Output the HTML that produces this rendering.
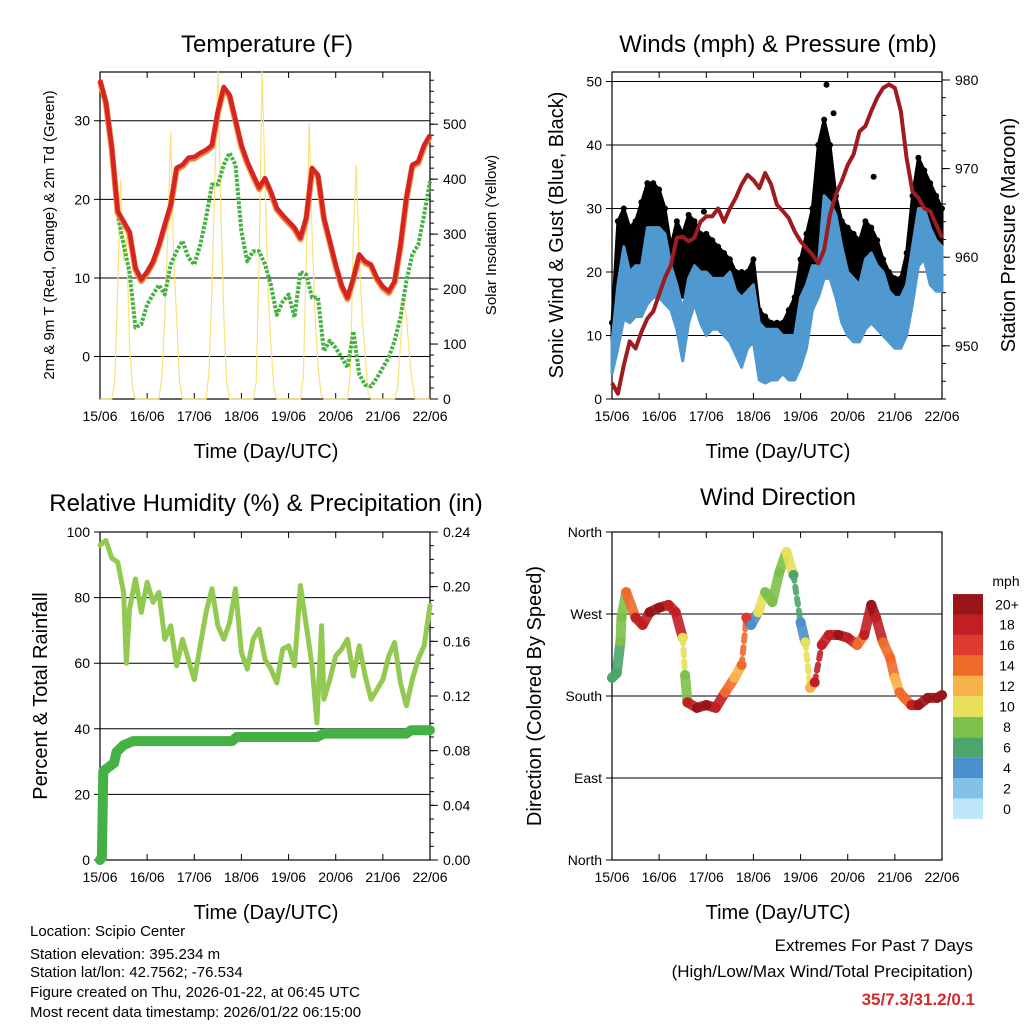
<!DOCTYPE html>
<html><head><meta charset="utf-8">
<style>
html,body{margin:0;padding:0;background:#fff;}
svg{display:block;font-family:"Liberation Sans",Arial,sans-serif;}
</style></head>
<body>
<svg id="chart" width="1024" height="1024" viewBox="0 0 1024 1024" xmlns="http://www.w3.org/2000/svg">
<rect x="0" y="0" width="1024" height="1024" fill="#fff"/>
<g id="layer"></g>
<text x="267" y="52" font-size="24" text-anchor="middle">Temperature (F)</text>
<text x="778" y="52" font-size="24" text-anchor="middle">Winds (mph) &amp; Pressure (mb)</text>
<text x="266" y="511" font-size="24" text-anchor="middle">Relative Humidity (%) &amp; Precipitation (in)</text>
<text x="778" y="505" font-size="24" text-anchor="middle">Wind Direction</text>
<text transform="translate(54,235) rotate(-90)" font-size="15" text-anchor="middle">2m &amp; 9m T (Red, Orange) &amp; 2m Td (Green)</text>
<text transform="translate(496,235) rotate(-90)" font-size="15" text-anchor="middle">Solar Insolation (Yellow)</text>
<text transform="translate(563,235) rotate(-90)" font-size="20" text-anchor="middle">Sonic Wind &amp; Gust (Blue, Black)</text>
<text transform="translate(1015,235) rotate(-90)" font-size="20" text-anchor="middle">Station Pressure (Maroon)</text>
<text transform="translate(47,696) rotate(-90)" font-size="20" text-anchor="middle">Percent &amp; Total Rainfall</text>
<text transform="translate(541,696) rotate(-90)" font-size="20" text-anchor="middle">Direction (Colored By Speed)</text>
<text x="266" y="458" font-size="20" text-anchor="middle">Time (Day/UTC)</text>
<text x="778" y="458" font-size="20" text-anchor="middle">Time (Day/UTC)</text>
<text x="266" y="919" font-size="20" text-anchor="middle">Time (Day/UTC)</text>
<text x="778" y="919" font-size="20" text-anchor="middle">Time (Day/UTC)</text>
<g font-size="15">
<text x="30" y="936">Location: Scipio Center</text>
<text x="30" y="959">Station elevation: 395.234 m</text>
<text x="30" y="977">Station lat/lon: 42.7562; -76.534</text>
<text x="30" y="997">Figure created on Thu, 2026-01-22, at 06:45 UTC</text>
<text x="30" y="1017">Most recent data timestamp: 2026/01/22 06:15:00</text>
</g>
<g text-anchor="end">
<text x="973" y="951" font-size="17">Extremes For Past 7 Days</text>
<text x="973" y="977" font-size="17">(High/Low/Max Wind/Total Precipitation)</text>
<text x="975" y="1005" font-size="17" font-weight="bold" fill="#d42a2a">35/7.3/31.2/0.1</text>
</g>
<text x="1006" y="586" font-size="14" text-anchor="middle">mph</text>
</svg>
<script>
// ---- data (time in days since 15/06 00 UTC) ----
const dayLabels = ["15/06","16/06","17/06","18/06","19/06","20/06","21/06","22/06"];
const t8 = [0,0.125,0.25,0.375,0.5,0.625,0.75,0.875,1,1.125,1.25,1.375,1.5,1.625,1.75,1.875,2,2.125,2.25,2.375,2.5,2.625,2.75,2.875,3,3.125,3.25,3.375,3.5,3.625,3.75,3.875,4,4.125,4.25,4.375,4.5,4.625,4.75,4.875,5,5.125,5.25,5.375,5.5,5.625,5.75,5.875,6,6.125,6.25,6.375,6.5,6.625,6.75,6.875,7];
const temp2m = [35.2,32.4,26.6,18.5,17.2,15.9,11.3,9.8,10.8,12.1,14.2,16.8,19.3,24.0,24.4,25.3,25.4,25.9,26.3,26.9,31.2,34.3,33.3,30.1,26.9,24.8,23.1,21.5,22.7,21.0,18.9,18.0,17.2,16.4,15.1,17.7,24.0,23.1,17.7,14.7,11.7,9.1,7.5,10.0,13.0,12.1,11.7,10.0,8.9,8.3,9.6,14.2,20.2,24.4,24.8,26.9,28.2];
const temp9m = [35.0,32.2,26.4,18.3,17.0,15.7,11.1,9.6,10.6,11.9,14.0,16.6,19.1,23.8,24.2,25.1,25.2,25.7,26.1,26.7,31.0,34.1,33.1,29.9,26.7,24.6,22.9,21.3,22.5,20.8,18.7,17.8,17.0,16.2,14.9,17.5,23.8,22.9,17.5,14.5,11.5,8.9,7.3,9.8,12.8,11.9,11.5,9.8,8.7,8.1,9.4,14.0,20.0,24.2,24.6,26.7,28.0];
const dewpt = [34.6,32,27.4,18,14.2,10.8,3.7,4.1,6.6,7.9,9.1,7.9,11.7,13.4,14.7,12.6,11.7,14.2,17.7,21.9,21.9,24.4,25.9,24.4,15.9,12.1,13.4,13.4,11.7,9.1,5.3,7.0,7.9,5.0,10.8,10.4,7.5,7.5,0.7,2.0,1.1,-0.1,-1.4,3.2,-2.3,-3.6,-3.8,-2.7,-1.4,-0.1,2.0,5.0,9.6,13.0,14.2,18.0,22.3];
const solarDayPeaks = [[30,200,400,250,300,100,20],[40,150,300,487,250,150,30],[50,200,400,596,350,150,30],[30,250,596,400,200,100,20],[40,250,503,300,150,60,10],[50,300,426,250,150,80,10],[20,100,184,150,80,30,0]];
const pressure = [945.8,944.6,947.8,950.5,949.7,951.6,953.1,953.9,955.8,957.7,959.1,962.2,962.3,961.8,962.2,964.0,964.6,964.6,965.5,964.0,965.5,966.7,968.2,969.3,968.7,967.8,969.5,968.2,965.9,965.2,964.4,962.9,961.8,961.0,960.3,959.3,960.8,964.8,967.1,968.6,970.4,971.6,974.2,974.8,976.5,978.0,979.1,979.5,979.1,976.5,971.2,967.4,966.7,965.5,965.2,963.7,962.2];
const windLo = [4,8,12.6,12,13,13,15,16,16,15,14,11,6,12,15,12,10,11,11,10,9,7,5,8,9,3,2.5,3,3,4,3,3,5,8,14,16,19,19,16,12,10,9,9,11,12,11,10,9,8,8,10,15,21,22,18,17,17];
const windHi = [9,18,24,20,21,21,27,27,27,26,21,18,14,19,21,20,20,19,19,19,20,17,16,17,18,12,11,11,11,10,10,10,16,18,21,21,32,31,29,24,20,19,18,22,23,21,20,17,16,16,18,24,30,30,27,25,24];
const gustLo = [5,12,16,16,18,20,22,22,22,20,15,18,16,18,18,16,15,14,14,12,11,9,8,10,11,6,5,6,6,6,6,8,10,16,20,22,26,23,20,18,16,14,14,15,16,14,13,12,11,11,14,22,28,27,24,22,22];
const gustHi = [12,28,30,27,28,31,34,34,33,30,24,28,26,29,28,26,26,25,24,23,22,20,20,20,22,14,13,12,12,12,14,16,22,26,30,40,44,40,32,28,27,26,25,28,27,25,22,20,19,19,23,32,38,36,34,32,30];
const gustOutlierT = [4.55,4.7,1.95,5.55];
const gustOutlierV = [49.5,45,29.5,35];
const rhT = [0,0.125,0.25,0.375,0.5,0.56,0.625,0.75,0.875,1,1.125,1.25,1.375,1.5,1.625,1.75,1.875,2,2.125,2.25,2.375,2.5,2.625,2.75,2.875,3,3.125,3.25,3.375,3.5,3.625,3.75,3.875,4,4.125,4.25,4.375,4.5,4.6,4.7,4.75,4.875,5,5.125,5.25,5.375,5.5,5.625,5.75,5.875,6,6.125,6.25,6.375,6.5,6.625,6.75,6.875,7];
const rhV = [96,97.4,92,90.8,81.6,60,76.5,85.7,75.5,84.7,78.6,81.6,67.3,71.4,59.2,67.3,61,55,65.3,75.5,82.7,71.4,67.3,72.4,82.7,63.3,58.2,67.3,70.4,61.2,58.2,54,64.3,65.3,59.2,83.7,71.4,59.2,41.8,71.4,49,55,62.2,64.3,67.3,56.1,65.3,56.1,49,52,55,62.2,66.3,54,47,55,61.2,65.3,77.6];
const precipT = [0,0.04,0.07,0.3,0.35,0.5,0.7,2.8,2.9,4.6,4.75,6.5,6.6,7];
const precipV = [0,0.002,0.065,0.071,0.079,0.084,0.087,0.087,0.090,0.090,0.0925,0.0925,0.095,0.095];
const dirT = [0,0.1,0.18,0.2,0.3,0.5,0.65,0.8,1.0,1.2,1.35,1.5,1.55,1.6,1.8,2.0,2.2,2.4,2.6,2.75,2.85,2.95,3.1,3.25,3.4,3.55,3.7,3.85,4.0,4.1,4.2,4.3,4.45,4.6,4.8,5.0,5.2,5.35,5.5,5.6,5.75,5.9,6.0,6.1,6.2,6.35,6.5,6.7,6.9,7.0];
const dirV = [200,205,240,266,294,266,258,272,277,280,272,244,203,173,167,170,167,184,200,214,266,258,272,294,283,316,338,313,261,239,189,195,236,247,247,244,236,247,280,266,239,222,200,184,178,170,170,178,178,181];
const dirSpd = [6,6,8,8,14,18,18,19,19,18,17,9,8,18,19,19,18,13,12,13,15,4,10,7,8,8,10,6,4,10,11,17,18,18,19,18,14,18,20,17,13,13,11,13,14,17,20,20,20,20];
const cbLabels = ["0","2","4","6","8","10","12","14","16","18","20+"];
const cbColors = ["#bfe7fa","#82c0e8","#4b8fcb","#4ca56b","#7dc14c","#e8df5a","#f7b24b","#f06a2c","#df3a2d","#c21f25","#991519"];

// ---- helpers ----
const NS = "http://www.w3.org/2000/svg";
const layer = document.getElementById("layer");
function mk(tag, attrs, parent){ const e=document.createElementNS(NS,tag); for(const k in attrs) e.setAttribute(k,attrs[k]); (parent||layer).appendChild(e); return e; }
function panel(x0,x1,y0,y1,lmin,lmax,rmin,rmax){
  return {x0,x1,y0,y1,
    X:t=>x0+(t/7)*(x1-x0),
    L:v=>y1-(v-lmin)/(lmax-lmin)*(y1-y0),
    R:v=>y1-(v-rmin)/(rmax-rmin)*(y1-y0)};
}
const P1 = panel(100,430,72,399,-5.4,36.2,0,595);
const P2 = panel(612,942,72,399,0,51.5,944,980.9);
const P3 = panel(100,430,532,860,0,100,0,0.24);
const P4 = panel(612,942,532,860,0,360,0,1);

function frame(P, name){
  const g=mk("g",{});
  
  
  for(let i=0;i<dayLabels.length;i++){
    const x=P.X(i);
    mk("line",{x1:x,y1:P.y0,x2:x,y2:P.y0+6,stroke:"#000","stroke-width":1},g);
    mk("line",{x1:x,y1:P.y1,x2:x,y2:P.y1-6,stroke:"#000","stroke-width":1},g);
    const tx=mk("text",{x:x,y:P.y1+22,"font-size":14,"text-anchor":"middle"},g);
    tx.textContent=dayLabels[i];
    
    
  }
  return g;
}
function leftAxis(P,g,vals,labels){
  vals.forEach((v,i)=>{
    const y=P.L(v);
    mk("line",{x1:P.x0-6,y1:y,x2:P.x1,y2:y,stroke:"#000","stroke-width":1},g);
    const tx=mk("text",{x:P.x0-10,y:y+5,"font-size":14,"text-anchor":"end"},g);
    tx.textContent=labels[i];
    
    
  });
}
function rightAxis(P,g,vals,labels,minorStep,rmin,rmax){
  for(let v=rmin; v<=rmax+1e-9; v+=minorStep){ const y=P.R(v); if(y<P.y0-0.5) continue; mk("line",{x1:P.x1,y1:y,x2:P.x1+4,y2:y,stroke:"#000","stroke-width":1},g); }
  vals.forEach((v,i)=>{
    const y=P.R(v);
    mk("line",{x1:P.x1,y1:y,x2:P.x1+8,y2:y,stroke:"#000","stroke-width":1},g);
    const tx=mk("text",{x:P.x1+13,y:y+5,"font-size":14},g);
    tx.textContent=labels[i];
    
    
  });
}
function box(P,g){ mk("rect",{x:P.x0,y:P.y0,width:P.x1-P.x0,height:P.y1-P.y0,fill:"none",stroke:"#000","stroke-width":1.2},g); }
function pts(P,ts,vs,scale){ return ts.map((t,i)=>P.X(t).toFixed(1)+","+scale(vs[i]).toFixed(1)).join(" "); }

// ---- Panel 1: temperature ----
let g1=frame(P1,'temperature');
leftAxis(P1,g1,[0,10,20,30],["0","10","20","30"]);
rightAxis(P1,g1,[0,100,200,300,400,500],["0","100","200","300","400","500"],20,0,595);
const solarT=[], solarV=[];
for(let d=0; d<7; d++){ for(let k=0;k<16;k++){ solarT.push(d+k/16); solarV.push(k>=5&&k<=11? solarDayPeaks[d][k-5]:0); } }
solarT.push(7); solarV.push(0);
let solar=mk("polyline",{points:pts(P1,solarT,solarV,P1.R),fill:"none",stroke:"#f9e27a","stroke-width":1.2});


let td=mk("polyline",{points:pts(P1,t8,dewpt,P1.L),fill:"none",stroke:"#45b043","stroke-width":4,"stroke-dasharray":"3 1.5","stroke-linejoin":"round"});


let t9=mk("polyline",{points:pts(P1,t8,temp9m,P1.L),fill:"none",stroke:"#f08a3a","stroke-width":6,"stroke-linejoin":"round"});


let t2=mk("polyline",{points:pts(P1,t8,temp2m,P1.L),fill:"none",stroke:"#d42424","stroke-width":4.5,"stroke-linejoin":"round"});


box(P1,g1);

// ---- Panel 2: winds ----
let g2=frame(P2,'winds');
leftAxis(P2,g2,[0,10,20,30,40,50],["0","10","20","30","40","50"]);
rightAxis(P2,g2,[950,960,970,980],["950","960","970","980"],2,944,980.9);
let gustBand=mk("polygon",{points:pts(P2,t8,gustHi,P2.L)+" "+pts(P2,t8.slice().reverse(),gustLo.slice().reverse(),P2.L),fill:"#000",stroke:"#000","stroke-width":3,"stroke-linejoin":"round"});


t8.forEach((t,i)=>{
  const c=mk("circle",{cx:P2.X(t),cy:P2.L(gustHi[i]),r:3,fill:"#000"});
  
  
});
gustOutlierT.forEach((t,i)=>{
  const c=mk("circle",{cx:P2.X(t),cy:P2.L(gustOutlierV[i]),r:3,fill:"#000"});
  
  
});
let windBand=mk("polygon",{points:pts(P2,t8,windHi,P2.L)+" "+pts(P2,t8.slice().reverse(),windLo.slice().reverse(),P2.L),fill:"#5098d0",stroke:"#5098d0","stroke-width":3,"stroke-linejoin":"round"});


let pr=mk("polyline",{points:pts(P2,t8,pressure,P2.R),fill:"none",stroke:"#9e1b1f","stroke-width":4,"stroke-linejoin":"round"});


box(P2,g2);

// ---- Panel 3: RH & precip ----
let g3=frame(P3,'humidity');
leftAxis(P3,g3,[0,20,40,60,80,100],["0","20","40","60","80","100"]);
rightAxis(P3,g3,[0,0.04,0.08,0.12,0.16,0.2,0.24],["0.00","0.04","0.08","0.12","0.16","0.20","0.24"],0.01,0,0.24);
let rh=mk("polyline",{points:pts(P3,rhT,rhV,P3.L),fill:"none",stroke:"#92c950","stroke-width":5,"stroke-linejoin":"round","stroke-linecap":"round"});


let pc=mk("polyline",{points:pts(P3,precipT,precipV,P3.R),fill:"none",stroke:"#45b043","stroke-width":10,"stroke-linejoin":"round","stroke-linecap":"round"});


box(P3,g3);

// ---- Panel 4: wind direction ----
let g4=frame(P4,'wind-direction');
leftAxis(P4,g4,[0,90,180,270,360],["North","East","South","West","North"]);
function spdColor(s){ let i=Math.min(10,Math.max(0,Math.round(s/2))); return cbColors[i]; }
for(let i=0;i<dirT.length-1;i++){
  const jump=Math.abs(dirV[i+1]-dirV[i])>35;
  const seg=mk("line",{x1:P4.X(dirT[i]),y1:P4.L(dirV[i]),x2:P4.X(dirT[i+1]),y2:P4.L(dirV[i+1]),stroke:spdColor(dirSpd[i]),"stroke-width":jump?6:10,"stroke-linecap":"round","stroke-dasharray":jump?"6 6":"none",opacity:0.9});
  
  
}
dirT.forEach((t,i)=>{
  const c=mk("circle",{cx:P4.X(t),cy:P4.L(dirV[i]),r:5,fill:spdColor(dirSpd[i])});
  
  
});
box(P4,g4);

// colorbar
const cbH=20.45;
cbColors.forEach((c,i)=>{
  const y=819-(i+1)*cbH;
  const r=mk("rect",{x:953,y:y,width:30,height:cbH,fill:c});
  
  
  const tx=mk("text",{x:1007,y:y+cbH/2+5,"font-size":14,"text-anchor":"middle"});
  tx.textContent=cbLabels[i];
  
  
});
</script>
</body></html>
